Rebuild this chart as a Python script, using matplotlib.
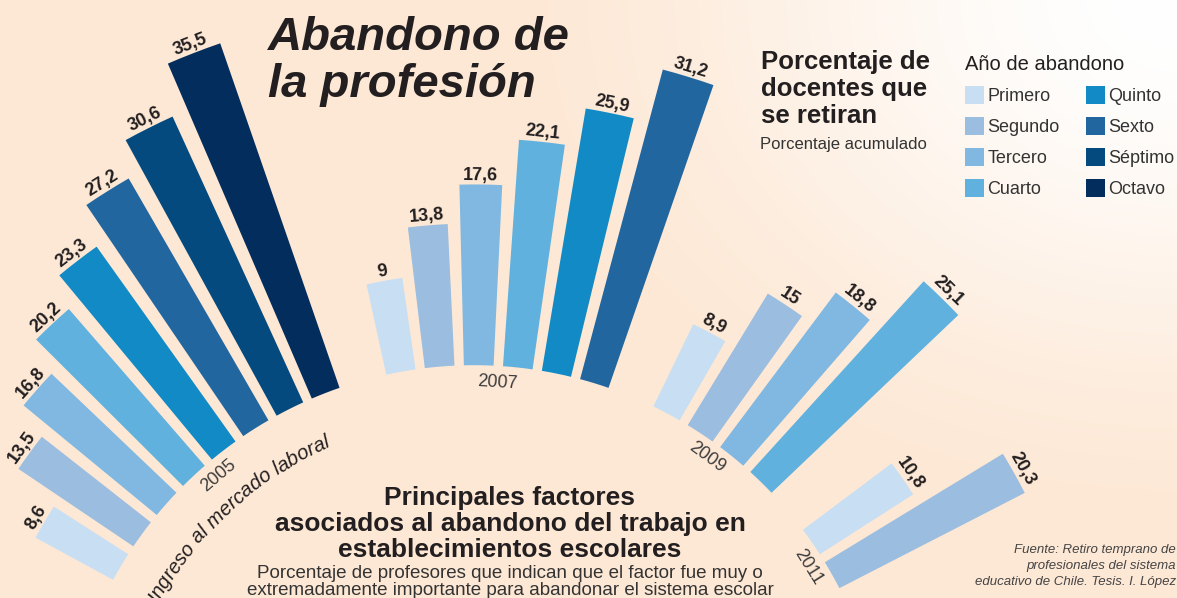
import numpy as np
import matplotlib
matplotlib.use('Agg')
import matplotlib.pyplot as plt
from matplotlib.patches import Patch
from matplotlib.font_manager import FontProperties, findfont
from matplotlib.ft2font import FT2Font

# ---------------- data ----------------
years = ['2005', '2007', '2009', '2011']
values_2005 = [8.6, 13.5, 16.8, 20.2, 23.3, 27.2, 30.6, 35.5]
values_2007 = [9, 13.8, 17.6, 22.1, 25.9, 31.2]
values_2009 = [8.9, 15, 18.8, 25.1]
values_2011 = [10.8, 20.3]
levels = ['Primero', 'Segundo', 'Tercero', 'Cuarto',
          'Quinto', 'Sexto', 'Séptimo', 'Octavo']
level_colors = ['#c8dff3', '#9bbde0', '#80b8e1', '#61b1de',
                '#118ac6', '#2266a0', '#044a7f', '#032d5d']
series = [values_2005, values_2007, values_2009, values_2011]

# ---------------- layout ----------------
W, H, DPI = 1177, 598, 100
TXT = '#231f20'
plt.rcParams['font.family'] = ['Liberation Sans', 'DejaVu Sans']

fig = plt.figure(figsize=(W / DPI, H / DPI), dpi=DPI)

def fx(x):
    return x / W

def fy(y):
    return 1 - y / H

# background gradient (white at upper right -> peach)
bg = fig.add_axes([0, 0, 1, 1], zorder=0)
yy, xx = np.mgrid[0:H, 0:W]
d = np.sqrt(((W - xx) / 720.0) ** 2 + (yy / 560.0) ** 2)
t = np.clip(d, 0, 1)
t = t * t * (3 - 2 * t)
white = np.array([255, 255, 255]) / 255
peach = np.array([253, 232, 213]) / 255
img = white[None, None, :] * (1 - t[..., None]) + peach[None, None, :] * t[..., None]
bg.imshow(img, aspect='auto', extent=[0, 1, 0, 1], origin='upper')
bg.axis('off')

# polar axes, centre below the figure
CX, CY = 474, 776
PX_PER_UNIT = 10.27
R0 = 40.0
RMAX = 80.0
START, STEP, BAR_W = -59.4, 5.46, 4.15
rpx = RMAX * PX_PER_UNIT
ax = fig.add_axes([fx(CX - rpx), fy(CY + rpx), 2 * rpx / W, 2 * rpx / H],
                  projection='polar', zorder=1)
ax.set_theta_zero_location('N')
ax.set_theta_direction(-1)
ax.set_rlim(0, RMAX)
ax.axis('off')
ax.patch.set_alpha(0)

slot = 0
for year, vals in zip(years, series):
    thetas = []
    for li, v in enumerate(vals):
        th = START + STEP * slot
        thetas.append(th)
        slot += 1
    slot += 1
    ax.bar(np.deg2rad(thetas), vals, width=np.deg2rad(BAR_W), bottom=R0,
           color=level_colors[:len(vals)], linewidth=0, align='center')
    for th, v in zip(thetas, vals):
        lab = f'{v:g}'.replace('.', ',')
        ax.text(np.deg2rad(th), R0 + v + 0.45, lab, rotation=-th,
                rotation_mode='anchor', ha='center', va='baseline',
                fontsize=13, fontweight='bold', color=TXT)
    thc = np.mean(thetas)
    ax.text(np.deg2rad(thc), 38.4, year, rotation=-thc, rotation_mode='anchor',
            ha='center', va='center', fontsize=13, color='#3c3c3c')

# curved text along an arc
arc_text = 'Ingreso al mercado laboral'
fp = FontProperties(family='Liberation Sans', style='italic', size=14.5)
font = FT2Font(findfont(fp))
font.set_size(14.5, DPI)
adv = [font.load_char(ord(c)).linearHoriAdvance / 65536 for c in arc_text]
RB = 35.0
rb_px = RB * PX_PER_UNIT
TH_END = np.deg2rad(-23.5)
L = sum(adv)
pos = np.cumsum(adv) - np.array(adv) / 2
for c, p in zip(arc_text, pos):
    th = TH_END - (L - p) / rb_px
    ax.text(th, RB, c, rotation=-np.rad2deg(th), rotation_mode='anchor',
            ha='center', va='baseline', fontproperties=fp, color=TXT)

# titles
fig.text(fx(268), fy(50), 'Abandono de', fontsize=34, fontweight='bold',
         style='italic', color=TXT, ha='left', va='baseline')
fig.text(fx(268), fy(97), 'la profesión', fontsize=34, fontweight='bold',
         style='italic', color=TXT, ha='left', va='baseline')

for txt, yb in zip(['Porcentaje de', 'docentes que', 'se retiran'], [69, 96, 123]):
    fig.text(fx(761), fy(yb), txt, fontsize=18.5, fontweight='bold', color=TXT,
             ha='left', va='baseline')
fig.text(fx(760), fy(149), 'Porcentaje acumulado', fontsize=12, color='#333333',
         ha='left', va='baseline')

for txt, yb in zip(['Principales factores', 'asociados al abandono del trabajo en',
                    'establecimientos escolares'], [505, 531, 557]):
    fig.text(fx(510), fy(yb), txt, fontsize=19, fontweight='bold', color=TXT,
             ha='center', va='baseline')
for txt, yb in zip(['Porcentaje de profesores que indican que el factor fue muy o',
                    'extremadamente importante para abandonar el sistema escolar'],
                   [578, 595]):
    fig.text(fx(510), fy(yb), txt, fontsize=13.5, color='#333333',
             ha='center', va='baseline')

for txt, yb in zip(['Fuente: Retiro temprano de', 'profesionales del sistema',
                    'educativo de Chile. Tesis. I. López'], [553, 569, 585]):
    fig.text(fx(1176), fy(yb), txt, fontsize=9.5, style='italic', color='#444444',
             ha='right', va='baseline')

# legend
handles = [Patch(facecolor=c, edgecolor='none') for c in level_colors]
leg = fig.legend(handles, levels, ncol=2, loc='upper left',
                 bbox_to_anchor=(fx(965), fy(55)), frameon=False,
                 fontsize=13, title='Año de abandono', title_fontsize=14.5,
                 alignment='left', handlelength=1.05, handleheight=1.16,
                 handletextpad=0.2, labelspacing=0.66, columnspacing=1.44,
                 borderpad=0, borderaxespad=0)
for tx in leg.get_texts():
    tx.set_color('#333333')
leg.get_title().set_color(TXT)

fig.savefig('out.png', dpi=DPI)
